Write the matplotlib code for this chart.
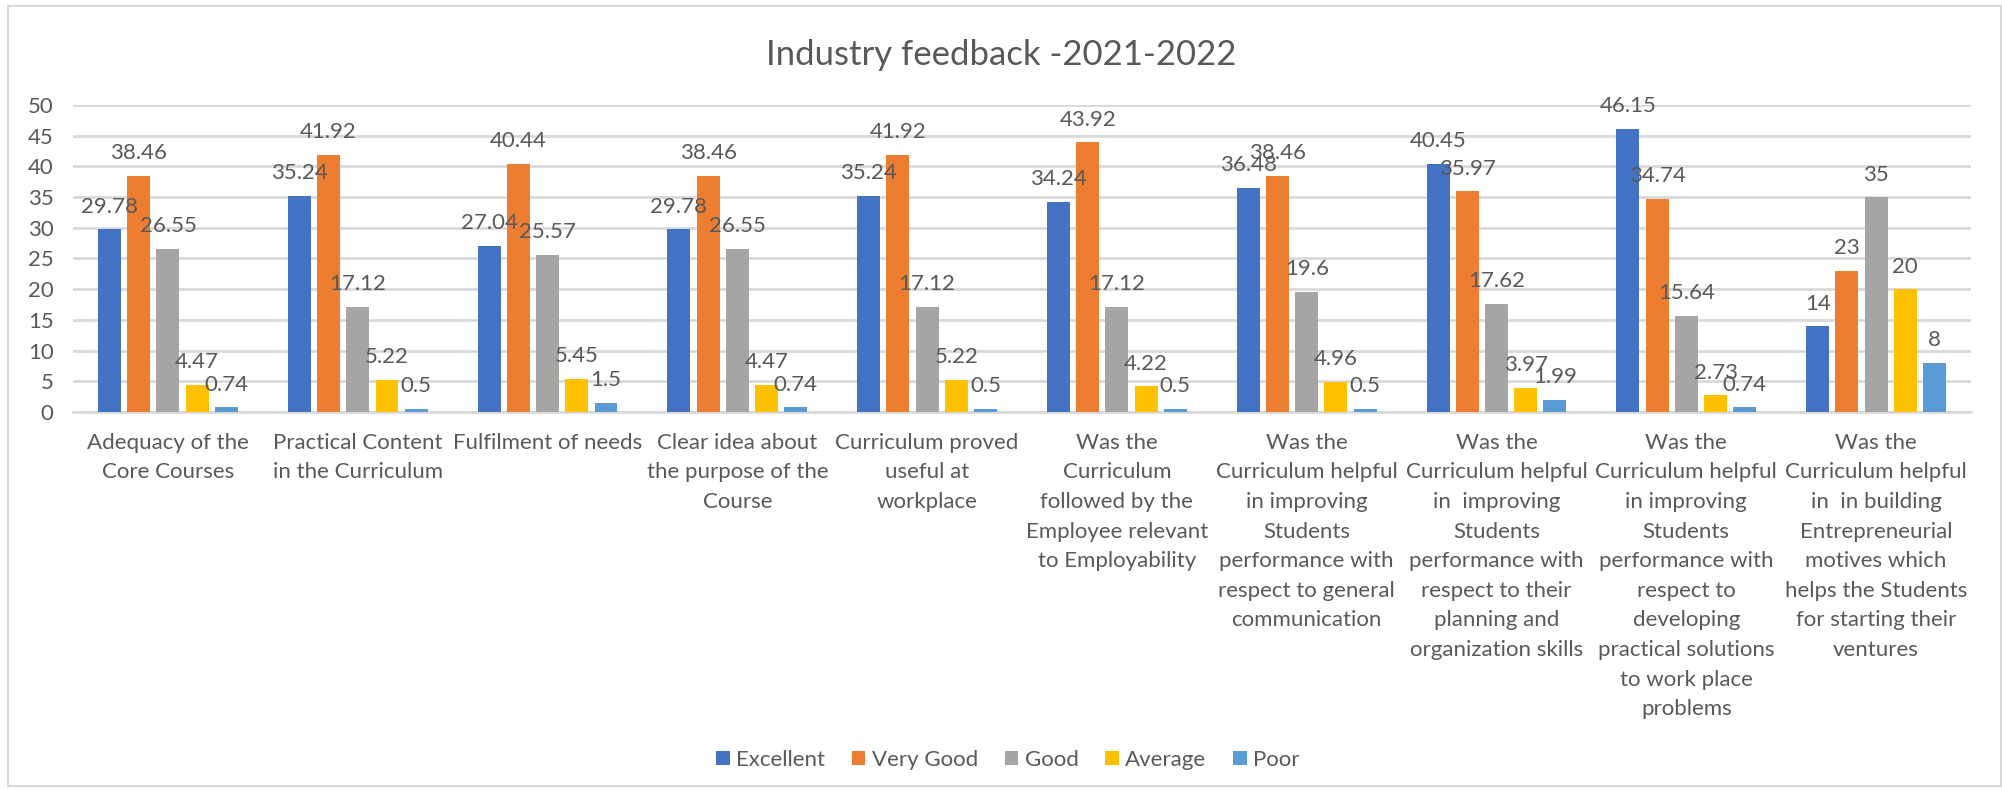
import numpy as np
import matplotlib
matplotlib.use("Agg")
import matplotlib.pyplot as plt
from matplotlib.patches import Rectangle

plt.rcParams['font.family'] = ['Lato', 'DejaVu Sans']

# categories (line breaks as in the original chart)
categories = [
    "Adequacy of the\nCore Courses",
    "Practical Content\nin the Curriculum",
    "Fulfilment of needs",
    "Clear idea about\nthe purpose of the\nCourse",
    "Curriculum proved\nuseful at\nworkplace",
    "Was the\nCurriculum\nfollowed by the\nEmployee relevant\nto Employability",
    "Was the\nCurriculum helpful\nin improving\nStudents\nperformance with\nrespect to general\ncommunication",
    "Was the\nCurriculum helpful\nin  improving\nStudents\nperformance with\nrespect to their\nplanning and\norganization skills",
    "Was the\nCurriculum helpful\nin improving\nStudents\nperformance with\nrespect to\ndeveloping\npractical solutions\nto work place\nproblems",
    "Was the\nCurriculum helpful\nin  in building\nEntrepreneurial\nmotives which\nhelps the Students\nfor starting their\nventures",
]

series_names = ["Excellent", "Very Good", "Good", "Average", "Poor"]
excellent = [29.78, 35.24, 27.04, 29.78, 35.24, 34.24, 36.48, 40.45, 46.15, 14]
very_good = [38.46, 41.92, 40.44, 38.46, 41.92, 43.92, 38.46, 35.97, 34.74, 23]
good = [26.55, 17.12, 25.57, 26.55, 17.12, 17.12, 19.6, 17.62, 15.64, 35]
average = [4.47, 5.22, 5.45, 4.47, 5.22, 4.22, 4.96, 3.97, 2.73, 20]
poor = [0.74, 0.5, 1.5, 0.74, 0.5, 0.5, 0.5, 1.99, 0.74, 8]

yticks = [0, 5, 10, 15, 20, 25, 30, 35, 40, 45, 50]

colors = ["#4472C4", "#ED7D31", "#A5A5A5", "#FFC000", "#5B9BD5"]
text_color = "#595959"
grid_color = "#D9D9D9"

fig = plt.figure(figsize=(20.02, 7.91), dpi=100)
ax = fig.add_axes([0.0365, 0.4791, 0.9480, 0.3882])

# outer chart border
fig.patches.append(Rectangle((0.004, 0.006), 0.9955, 0.987, transform=fig.transFigure,
                             fill=False, edgecolor=grid_color, linewidth=1.5))

x = np.arange(len(categories))
pitch = 0.154
width = 0.121
all_series = [excellent, very_good, good, average, poor]

for i, (name, vals) in enumerate(zip(series_names, all_series)):
    pos = x + (i - 2) * pitch
    bars = ax.bar(pos, vals, width, color=colors[i], label=name, zorder=3)
    for b, v in zip(bars, vals):
        ax.annotate(f"{v:g}", (b.get_x() + b.get_width() / 2, v),
                    xytext=(0, 9), textcoords="offset points",
                    ha="center", va="bottom", fontsize=16, color=text_color, zorder=4)

ax.set_xlim(-0.5, len(categories) - 0.5)
ax.set_ylim(0, 50)
ax.set_yticks(yticks)
ax.set_xticks(x)
ax.set_xticklabels(categories, fontsize=16, color=text_color, linespacing=1.6, va="top")
ax.tick_params(axis="x", length=0, pad=15)
ax.tick_params(axis="y", length=0, pad=14, labelsize=16, labelcolor=text_color)

ax.yaxis.grid(True, color=grid_color, linewidth=2, zorder=0)
for side in ["top", "right", "left"]:
    ax.spines[side].set_visible(False)
ax.spines["bottom"].set_color(grid_color)
ax.spines["bottom"].set_linewidth(2)

fig.text(0.5, 0.93, "Industry feedback -2021-2022", ha="center", va="center",
         fontsize=25, color=text_color)

fig.legend(loc="center", bbox_to_anchor=(0.5035, 0.039), ncol=5, frameon=False,
           fontsize=16, handlelength=0.6, handleheight=0.6, handletextpad=0.3,
           columnspacing=1.2, labelcolor=text_color)

fig.savefig("out.png", dpi=100)
